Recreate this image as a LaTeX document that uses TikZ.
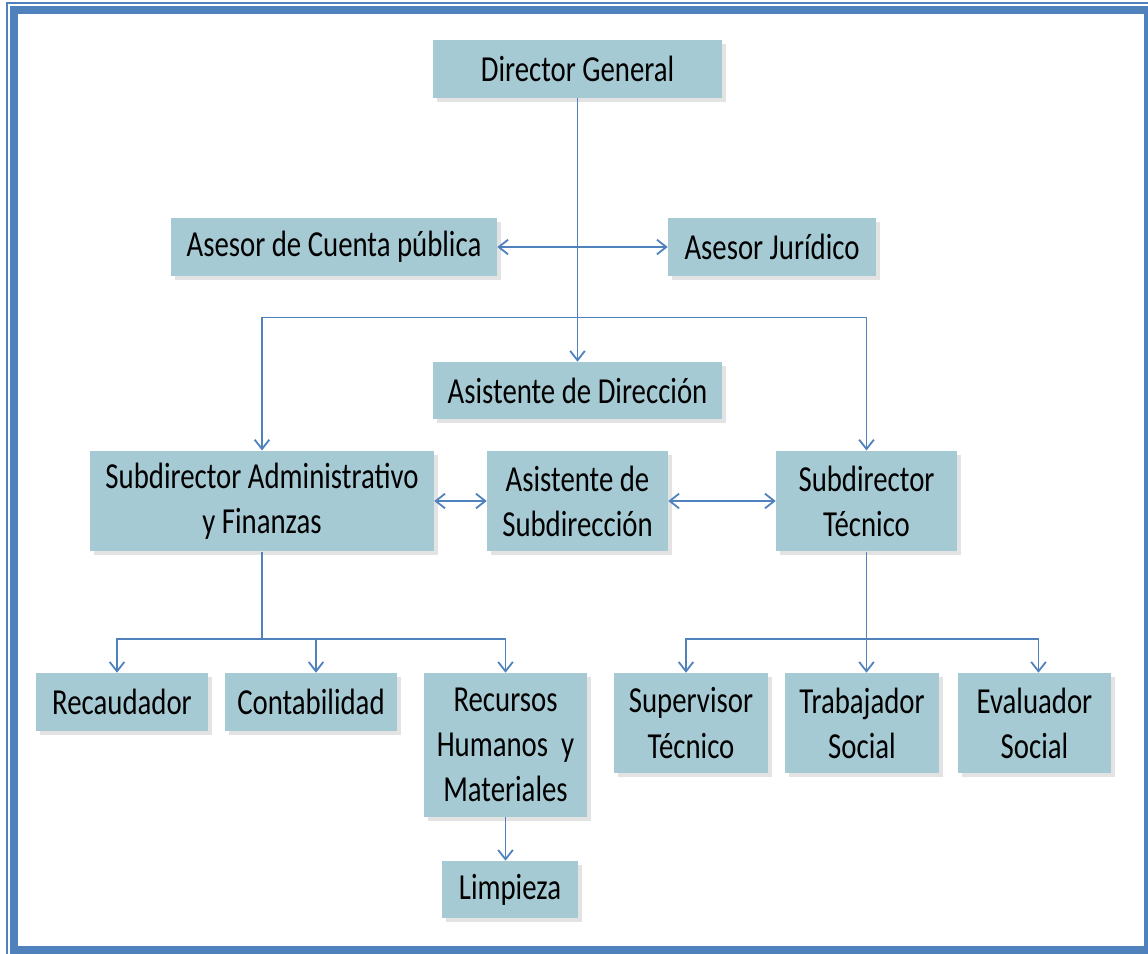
\documentclass[tikz,border=0pt]{standalone}
\usepackage{fontspec}
\setmainfont{Carlito}[FakeStretch=0.785]
\usetikzlibrary{arrows.meta,shadows}
\definecolor{frameblue}{RGB}{79,129,189}
\definecolor{boxfill}{RGB}{166,202,212}

\begin{document}
\begin{tikzpicture}[x=0.75pt,y=0.75pt,yscale=-1,xscale=1,
  box/.style={fill=boxfill, align=center, inner sep=0pt,
    font=\fontsize{27.5}{33.75}\selectfont,
    drop shadow={shadow xshift=3pt,shadow yshift=-3pt,opacity=0.22}},
  link/.style={draw=frameblue, line width=1.35pt},
  arr/.style={link, -{Straight Barb[length=7pt,width=11pt]}},
  darr/.style={link, {Straight Barb[length=7pt,width=11pt]}-{Straight Barb[length=7pt,width=11pt]}}]

\useasboundingbox (0,0) rectangle (1148,953);

% marco
\draw [frameblue, line width=1.5pt] (7,1160) -- (7,3) -- (1160,3);
\draw [frameblue, line width=6pt] (13.8,9.8) rectangle (1147.5,950);

% cajas
\node [box, minimum width=216.75pt, minimum height=43.5pt] (dirgen) at (577.5,69) {Director General};
\node [box, minimum width=244.5pt, minimum height=43.5pt] (asecta) at (334,247) {Asesor de Cuenta pública};
\node [box, minimum width=156pt, minimum height=43.5pt] (asejur) at (772,247) {Asesor Jurídico};
\node [box, minimum width=216.75pt, minimum height=42.75pt] (asidir) at (577.5,390.5) {Asistente de Dirección};

\node [box, minimum width=258pt, minimum height=75.4pt] (subadm) at (262,501) {Subdirector Administrativo\\y Finanzas};
\node [box, minimum width=135.75pt, minimum height=75.4pt] (asisub) at (577.5,501) {Asistente de\\Subdirección};
\node [box, minimum width=135.75pt, minimum height=75.4pt] (subtec) at (866.5,501) {Subdirector\\Técnico};

\node [box, minimum width=129pt, minimum height=43.5pt] (recaud) at (122,702) {Recaudador};
\node [box, minimum width=129pt, minimum height=43.5pt] (contab) at (311,702) {Contabilidad};
\node [box, minimum width=122.25pt, minimum height=108pt] (rrhh) at (505.5,745) {Recursos\\Humanos~~y\\Materiales};
\node [box, minimum width=102pt, minimum height=42.75pt] (limp) at (510,889.5) {Limpieza};

\node [box, minimum width=115.5pt, minimum height=75pt] (supte) at (691,723) {Supervisor\\Técnico};
\node [box, minimum width=115.5pt, minimum height=75pt] (trabs) at (862,723) {Trabajador\\Social};
\node [box, minimum width=114.75pt, minimum height=75pt] (evals) at (1034.5,723) {Evaluador\\Social};

% conectores
\coordinate (bus) at (577.5,317.5);
\coordinate (busA) at (262,639);
\coordinate (busT) at (866.5,639);

\draw [arr] (dirgen.south) -- (asidir.north);
\draw [darr] (asecta.east) -- (asejur.west);
\draw [arr] (bus) -| (subadm.north);
\draw [arr] (bus) -| (subtec.north);
\draw [darr] (subadm.east) -- (asisub.west);
\draw [darr] (asisub.east) -- (subtec.west);

\draw [link] (subadm.south) -- (busA);
\draw [arr] (busA) -| ([xshift=-3.75pt]recaud.north);
\draw [arr] (busA) -| ([xshift=3.75pt]contab.north);
\draw [arr] (busA) -| (rrhh.north);
\draw [arr] (rrhh.south) -- (rrhh.south |- limp.north);

\draw [link] (subtec.south) -- (busT);
\draw [arr] (busT) -| ([xshift=-3.75pt]supte.north);
\draw [arr] (busT) -- (busT |- trabs.north);
\draw [arr] (busT) -| ([xshift=3pt]evals.north);

\end{tikzpicture}
\end{document}
